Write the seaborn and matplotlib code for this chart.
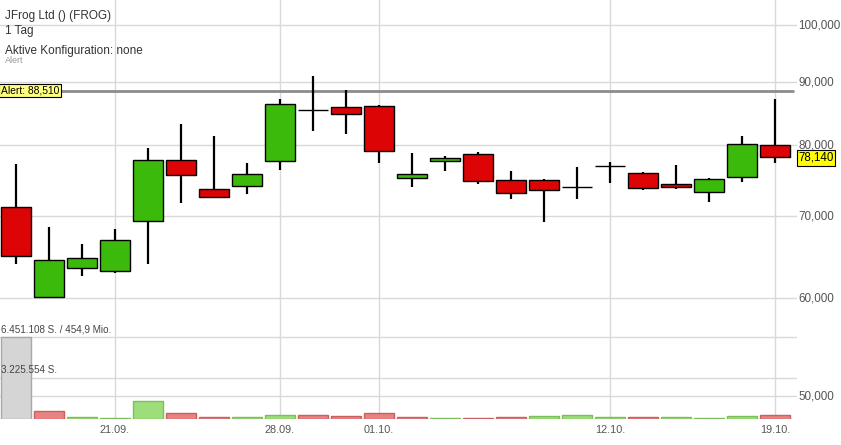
import numpy as np
import pandas as pd
import seaborn as sns
import matplotlib.pyplot as plt
from matplotlib.ticker import FixedLocator, FuncFormatter, NullLocator
from matplotlib.transforms import ScaledTranslation

# Tageskerzen JFrog (FROG), 16.09. - 19.10.
dates = ['16.09.', '17.09.', '18.09.', '21.09.', '22.09.', '23.09.', '24.09.', '25.09.',
         '28.09.', '29.09.', '30.09.', '01.10.', '02.10.', '05.10.', '06.10.', '07.10.',
         '08.10.', '09.10.', '12.10.', '13.10.', '14.10.', '15.10.', '16.10.', '19.10.']
opens = [71140, 60110, 63460, 63110, 69300, 77680, 73580, 73990, 77540, 85310, 85790, 85950,
         75110, 77620, 78560, 74830, 74830, 73850, 76810, 75810, 74270, 73170, 75250, 79940]
highs = [77100, 68520, 66370, 68260, 79450, 83100, 81250, 77250, 87090, 90970, 88560, 86110,
         78700, 78260, 78860, 76100, 74960, 76750, 77440, 76040, 76950, 75110, 81250, 87090]
lows = [63970, 60000, 62510, 62870, 63970, 71680, 72340, 72890, 76240, 82020, 81560, 77250,
        73890, 76140, 74270, 72220, 69170, 72260, 74450, 73480, 73580, 71810, 74590, 77310]
closes = [64900, 64410, 64650, 66870, 77680, 75530, 72480, 75670, 86270, 85310, 84670, 79000,
          75670, 78010, 74690, 73030, 73480, 73850, 76810, 73710, 73850, 74960, 80090, 78140]
volumes = [6451108, 650000, 185000, 140000, 1465000, 475000, 215000, 160000, 370000, 315000,
           240000, 495000, 160000, 110000, 110000, 160000, 240000, 315000, 160000, 215000,
           160000, 140000, 260000, 340000]
turnover_mio = 454.9
alert_level = 88510
price_ticks = [50000, 60000, 70000, 80000, 90000, 100000]
date_ticks = ['21.09.', '28.09.', '01.10.', '12.10.', '19.10.']

df = pd.DataFrame({'date': dates, 'open': opens, 'high': highs, 'low': lows,
                   'close': closes, 'volume': volumes})
df['idx'] = np.arange(len(df))
prev = df['close'].shift(1)
df['dir'] = np.where(prev.isna(), 'first', np.where(df['close'] >= prev, 'up', 'down'))

sns.set_style('white')
plt.rcParams['font.family'] = ['Liberation Sans', 'DejaVu Sans']

W, H = 841, 445
fig = plt.figure(figsize=(W / 100, H / 100), dpi=100)
ax = fig.add_axes([0, (H - 419.3) / H, 797 / W, 419.3 / H])
ax2 = ax.twinx()

grid_c = '#d9d9d9'
txt_c = '#555555'

# Volumen unten (eigene lineare Skala)
pal = {'up': '#9ede7a', 'down': '#e98282', 'first': '#d5d5d5'}
sns.barplot(data=df, x='idx', y='volume', hue='dir', palette=pal, dodge=False,
            width=0.91, saturation=1, ax=ax2, legend=False, linewidth=1)
edge = {'#9ede7a': '#7bbf5a', '#e98282': '#c86060', '#d5d5d5': '#a8a8a8'}
for p in ax2.patches:
    fc = '#%02x%02x%02x' % tuple(int(round(c * 255)) for c in p.get_facecolor()[:3])
    p.set_edgecolor(edge.get(fc, '#999999'))
vmax = df['volume'].max()
ax2.set_ylim(0, vmax * 5.095)
ax2.axhline(vmax, color=grid_c, lw=1, zorder=0)
ax2.axhline(vmax / 2, color=grid_c, lw=1, zorder=0)
fmt_de = lambda v: f'{int(v):,}'.replace(',', '.')
ax2.annotate(f'{fmt_de(vmax)} S. / {str(turnover_mio).replace(".", ",")} Mio.',
             xy=(0, vmax), xycoords=('axes fraction', 'data'), xytext=(1, 2),
             textcoords='offset points', fontsize=7.1, color='#444444', va='bottom')
ax2.annotate(f'{fmt_de(vmax / 2)} S.', xy=(0, vmax / 2), xycoords=('axes fraction', 'data'),
             xytext=(1, 2), textcoords='offset points', fontsize=7.1, color='#444444',
             va='bottom')
ax2.yaxis.set_visible(False)

# Kerzen (log. Preisskala)
ax.set_yscale('log')
ax.vlines(df['idx'], df['low'], df['high'], color='black', lw=1.6, zorder=2)
body = df[df['open'] != df['close']]
ax.bar(body['idx'], (body['close'] - body['open']).abs(),
       bottom=body[['open', 'close']].min(axis=1), width=0.89,
       color=np.where(body['close'] > body['open'], '#3cba0c', '#dc0404'),
       edgecolor='black', linewidth=1, zorder=3)
doji = df[df['open'] == df['close']]
ax.hlines(doji['close'], doji['idx'] - 0.445, doji['idx'] + 0.445, color='black', lw=1,
          zorder=3)

ax.axhline(alert_level, xmax=793 / 797, color='#8c8c8c', lw=2, zorder=1)
ax.text(-0.455, alert_level, f'Alert: {alert_level:,}', fontsize=7.4, color='black',
        va='center', ha='left', zorder=5,
        bbox=dict(boxstyle='square,pad=0.15', fc='#ffff80', ec='black', lw=0.8))

ax.set_ylim(47830, 104880)
ax.set_xlim(-0.485, 23.67)
ax.yaxis.tick_right()
ax.yaxis.set_major_locator(FixedLocator(price_ticks))
ax.yaxis.set_minor_locator(NullLocator())
ax.yaxis.set_major_formatter(FuncFormatter(lambda v, _: f'{v:,.0f}'))
ax.set_xticks([dates.index(d) for d in date_ticks])
ax.set_xticklabels(date_ticks)
ax.tick_params(axis='y', length=0, pad=1, labelsize=8.4, labelcolor=txt_c)
ax.tick_params(axis='x', length=0, pad=4, labelsize=7.8, labelcolor=txt_c)
shift = ScaledTranslation(0, 1 / 100, fig.dpi_scale_trans)
for lbl in ax.get_yticklabels():
    lbl.set_transform(lbl.get_transform() + shift)
ax.grid(True, color=grid_c, lw=1)
ax.set_axisbelow(True)
ax.set_xlabel('')
ax.set_ylabel('')
for a in (ax, ax2):
    for s in a.spines.values():
        s.set_visible(False)

last = df['close'].iloc[-1]
ax.annotate(f'{last:,}', xy=(1, last), xycoords=('axes fraction', 'data'),
            xytext=(1, -0.5), textcoords='offset points', fontsize=8.3, color='black',
            va='center', ha='left', zorder=6,
            bbox=dict(boxstyle='square,pad=0.15', fc='#ffff00', ec='black', lw=0.8),
            annotation_clip=False)

fig.text(5 / W, 1 - 16 / H, 'JFrog Ltd () (FROG)', fontsize=8.5, color='#333333', va='center')
fig.text(5 / W, 1 - 31 / H, '1 Tag', fontsize=8.5, color='#333333', va='center')
fig.text(5 / W, 1 - 51 / H, 'Aktive Konfiguration: none', fontsize=8.5, color='#333333',
         va='center')
fig.text(5 / W, 1 - 60.5 / H, 'Alert', fontsize=6.5, color='#999999', va='center')

fig.savefig('out.png', dpi=100)
